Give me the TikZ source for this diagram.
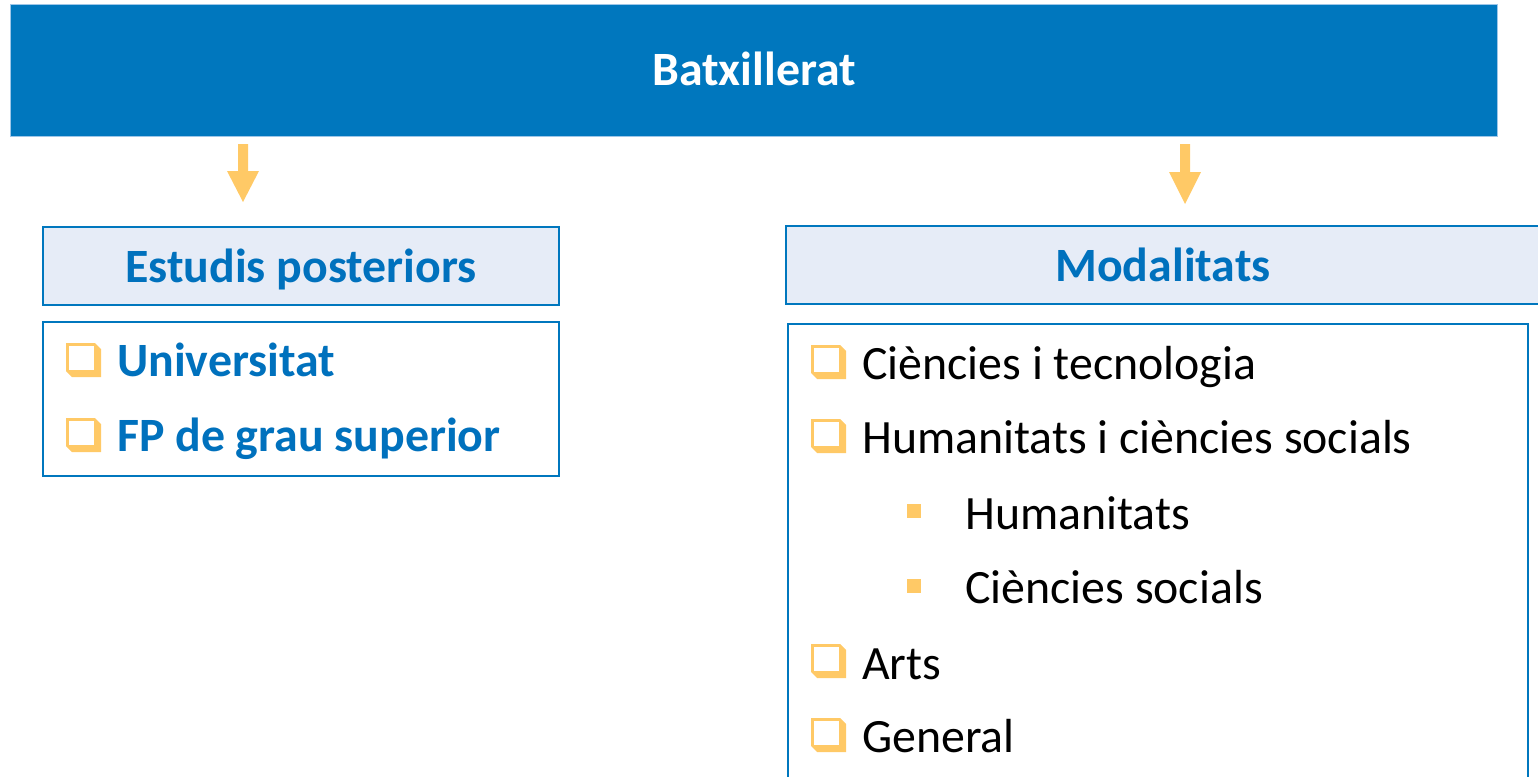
\documentclass[tikz,border=0pt]{standalone}
\usepackage{fontspec}
\setmainfont{Carlito}
\definecolor{mainblue}{HTML}{0077BE}
\definecolor{textblue}{HTML}{0071BD}
\definecolor{headfill}{HTML}{E6ECF7}
\definecolor{bulyel}{HTML}{FFC966}
\definecolor{edgelight}{HTML}{9DC6E8}
\tikzset{
  hbox/.style={draw=mainblue, line width=2.5bp, fill=headfill},
  cbox/.style={draw=mainblue, line width=2.5bp, fill=white},
  txt/.style={anchor=base west, inner sep=0pt, font=\fontsize{48}{57}\selectfont},
  btxt/.style={txt, font=\fontsize{48}{57}\selectfont\bfseries, text=textblue},
  ctxt/.style={anchor=base, inner sep=0pt, font=\fontsize{48}{57}\selectfont\bfseries},
  yarrow/.style={fill=bulyel},
  qbul/.pic={
    \fill[bulyel] (0,0) -- (29,0) -- (35,6) -- (35,34) -- (6,34) -- (0,28) -- cycle;
    \fill[white] (3.3,3) rectangle (28.3,27);
  },
  sbul/.pic={\fill[bulyel] (0,0) rectangle (14,14);}
}
\begin{document}
\begin{tikzpicture}[x=1bp,y=-1bp]
\useasboundingbox (0,0) rectangle (1538,776);
\clip (0,0) rectangle (1538,776);
% title bar
\node[draw=edgelight, line width=1bp, fill=mainblue, minimum width=1487bp, minimum height=132bp, anchor=north west, inner sep=0pt] (top) at (10,4) {};
\node[ctxt, text=white] (toptxt) at (754,85) {Batxillerat};
% arrows
\coordinate (la) at (243,144);
\coordinate (ra) at (1185,144);
\fill[yarrow] ([xshift=-5bp]la) -- ([xshift=5bp]la) -- ++(0,27) -- ++(11,0) -- (243,202) -- (227,171) -- (238,171) -- cycle;
\fill[yarrow] ([xshift=-5bp]ra) -- ([xshift=5bp]ra) -- ++(0,28) -- ++(11,0) -- (1185,204) -- (1169,172) -- (1180,172) -- cycle;
% left column
\draw[hbox] (43,227) rectangle (559,305);
\node[ctxt, text=textblue] (lh) at (301,282) {Estudis posteriors};
\draw[cbox] (43,322) rectangle (559,476);
\pic at (66,343) {qbul};
\node[btxt] (u) at (117,376) {Universitat};
\pic at (66,418) {qbul};
\node[btxt] (fp) at (117,451) {FP de grau superior};
% right column
\draw[hbox] (786,226) rectangle (1545,304);
\node[ctxt, text=textblue] (rh) at (1163,281) {Modalitats};
\draw[cbox] (788,324) rectangle (1528,800);
\pic at (811,345) {qbul};
\node[txt] (m1) at (862,379) {Ciències i tecnologia};
\pic at (811,419) {qbul};
\node[txt] (m2) at (862,453) {Humanitats i ciències socials};
\pic at (907,504) {sbul};
\node[txt] (m21) at (965,529) {Humanitats};
\pic at (907,579) {sbul};
\node[txt] (m22) at (965,603) {Ciències socials};
\pic at (811,644) {qbul};
\node[txt] (m3) at (862,679) {Arts};
\pic at (811,718) {qbul};
\node[txt] (m4) at (862,752) {General};
\end{tikzpicture}
\end{document}
